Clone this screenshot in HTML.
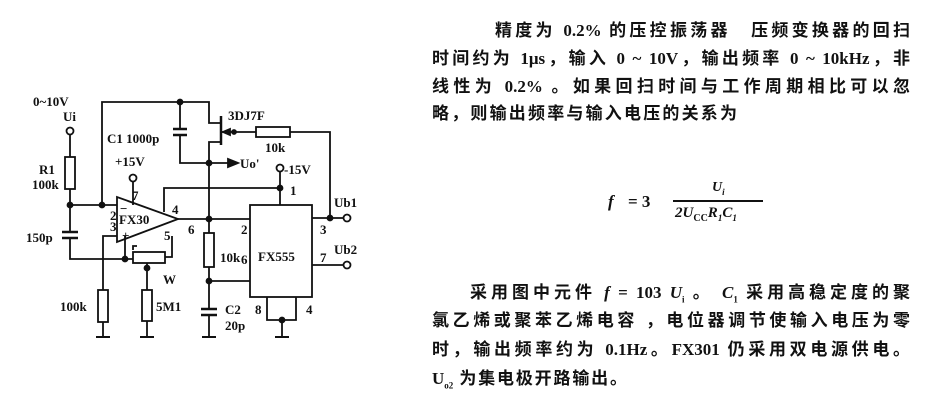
<!DOCTYPE html>
<html><head><meta charset="utf-8"><style>
body{margin:0;background:#fff;width:928px;height:407px;overflow:hidden;position:relative}
.t{position:absolute;font-family:"Liberation Serif","Noto Sans CJK SC",sans-serif;font-weight:bold;font-size:17px;color:#111;white-space:nowrap;text-align:justify;text-align-last:justify;line-height:20px}
svg{position:absolute;left:0;top:0}
svg text{font-family:"Liberation Serif",serif;font-size:13px;fill:#111;font-weight:bold}
</style></head><body>
<svg width="928" height="407" stroke="#111" stroke-width="1.8" fill="none">
<polyline points="102,205 102,102 209,102 209,123 220,123"/>
<circle cx="180" cy="102" r="2.5" fill="#111"/>
<line x1="180" y1="102" x2="180" y2="129"/><line x1="173" y1="129" x2="187" y2="129" stroke-width="2.5"/>
<line x1="173" y1="135" x2="187" y2="135" stroke-width="2.5"/><polyline points="180,135 180,163 209,163"/>
<line x1="221" y1="116" x2="221" y2="145" stroke-width="2.5"/>
<polyline points="221,142 209,142 209,219"/>
<line x1="221" y1="132" x2="256" y2="132"/><polygon points="223,132 230,129 230,135" fill="#111"/>
<circle cx="234" cy="132" r="2" fill="#111"/>
<rect x="256" y="127" width="34" height="10"/>
<polyline points="290,132 330,132 330,218"/>
<circle cx="209" cy="163" r="2.5" fill="#111"/>
<line x1="209" y1="163" x2="230" y2="163"/><polygon points="238,163 228,159 228,167" fill="#111"/>
<circle cx="280" cy="168" r="3.5" fill="#fff"/>
<polyline points="280,172 280,205"/>
<polyline points="164,212 164,188 280,188"/><circle cx="280" cy="188" r="2.5" fill="#111"/>
<rect x="250" y="205" width="62" height="92"/>
<polygon points="117,197 117,242 178,219" fill="#fff"/>
<line x1="133" y1="182" x2="133" y2="205"/><circle cx="133" cy="178" r="3.5" fill="#fff"/>
<line x1="178" y1="219" x2="250" y2="219"/><circle cx="209" cy="219" r="2.5" fill="#111"/>
<circle cx="70" cy="131" r="3.5" fill="#fff"/>
<line x1="70" y1="135" x2="70" y2="157"/><rect x="65" y="157" width="10" height="32"/>
<line x1="70" y1="189" x2="70" y2="232"/><line x1="70" y1="205" x2="117" y2="205"/>
<circle cx="70" cy="205" r="2.5" fill="#111"/><circle cx="102" cy="205" r="2.5" fill="#111"/>
<line x1="62" y1="232" x2="78" y2="232" stroke-width="2.5"/><line x1="62" y1="238" x2="78" y2="238" stroke-width="2.5"/>
<polyline points="70,238 70,259 133,259"/><circle cx="125" cy="259" r="2.5" fill="#111"/>
<line x1="125" y1="236" x2="125" y2="259"/>
<rect x="133" y="252" width="32" height="11"/>
<polyline points="165,257 172,257 172,236"/>
<polyline points="133,250 133,246 137,246"/>
<line x1="147" y1="263" x2="147" y2="290"/><circle cx="147" cy="268" r="2.5" fill="#111"/>
<rect x="142" y="290" width="10" height="31"/><line x1="147" y1="321" x2="147" y2="337"/><line x1="140" y1="337" x2="154" y2="337" stroke-width="2"/>
<polyline points="117,236 103,236 103,290"/>
<rect x="98" y="290" width="10" height="32"/><line x1="103" y1="322" x2="103" y2="337"/><line x1="96" y1="337" x2="110" y2="337" stroke-width="2"/>
<line x1="209" y1="219" x2="209" y2="309"/><rect x="204" y="233" width="10" height="34" fill="#fff"/>
<line x1="209" y1="281" x2="250" y2="281"/><circle cx="209" cy="281" r="2.5" fill="#111"/>
<line x1="201" y1="309" x2="217" y2="309" stroke-width="2.5"/><line x1="201" y1="315" x2="217" y2="315" stroke-width="2.5"/>
<line x1="209" y1="315" x2="209" y2="337"/><line x1="202" y1="337" x2="216" y2="337" stroke-width="2"/>
<polyline points="267,297 267,320 296,320 296,297"/><circle cx="282" cy="320" r="2.5" fill="#111"/>
<line x1="282" y1="320" x2="282" y2="337"/><line x1="275" y1="337" x2="289" y2="337" stroke-width="2"/>
<line x1="312" y1="218" x2="343" y2="218"/><circle cx="330" cy="218" r="2.5" fill="#111"/><circle cx="347" cy="218" r="3.5" fill="#fff"/>
<line x1="312" y1="265" x2="343" y2="265"/><circle cx="347" cy="265" r="3.5" fill="#fff"/>
<g stroke="none">
<text x="33" y="106">0~10V</text><text x="63" y="121">Ui</text>
<text x="39" y="174">R1</text><text x="32" y="189">100k</text>
<text x="107" y="143">C1 1000p</text><text x="228" y="120">3DJ7F</text><text x="265" y="152">10k</text>
<text x="240" y="168">Uo'</text><text x="115" y="166">+15V</text><text x="284" y="174">-15V</text>
<text x="132" y="200" font-size="11">7</text><text x="120" y="213" font-size="14">−</text>
<text x="110" y="220" font-size="12">2</text><text x="110" y="231" font-size="12">3</text>
<text x="119" y="224" font-size="14">FX30</text><text x="172" y="214" font-size="12">4</text>
<text x="164" y="240" font-size="12">5</text><text x="188" y="234" font-size="12">6</text>
<text x="122" y="240" font-size="11">+</text>
<text x="26" y="242">150p</text><text x="60" y="311">100k</text><text x="163" y="284">W</text><text x="156" y="311">5M1</text>
<text x="220" y="262">10k</text><text x="225" y="314">C2</text><text x="225" y="330">20p</text>
<text x="258" y="261" font-size="18">FX555</text>
<text x="290" y="195" font-size="12">1</text><text x="241" y="234" font-size="12">2</text><text x="241" y="264" font-size="12">6</text>
<text x="320" y="234" font-size="12">3</text><text x="320" y="262" font-size="12">7</text>
<text x="255" y="314" font-size="12">8</text><text x="306" y="314" font-size="12">4</text>
<text x="334" y="207">Ub1</text><text x="334" y="254">Ub2</text>
</g>
</svg>
<div class="t" style="left:495px;top:21px;width:415px">精度为 0.2% 的压控振荡器　压频变换器的回扫</div>
<div class="t" style="left:432px;top:49px;width:478px">时间约为 1μs，输入 0 ~ 10V，输出频率 0 ~ 10kHz，非</div>
<div class="t" style="left:432px;top:77px;width:478px">线性为 0.2% 。如果回扫时间与工作周期相比可以忽</div>
<div class="t" style="left:432px;top:104px;width:305px">略，则输出频率与输入电压的关系为</div>
<div class="t" style="left:608px;top:192px;font-style:italic">f</div>
<div class="t" style="left:628px;top:192px">= 3</div>
<div class="t" style="left:712px;top:178px;font-style:italic;font-size:14px">U<sub style="font-size:9px">i</sub></div>
<div style="position:absolute;left:673px;top:200px;width:90px;height:1.5px;background:#111"></div>
<div class="t" style="left:675px;top:203px;font-style:italic;font-size:15px">2U<sub style="font-size:10px;font-style:normal">CC</sub>R<sub style="font-size:9px">1</sub>C<sub style="font-size:9px">1</sub></div>
<div class="t" style="left:470px;top:283px;width:440px">采用图中元件 <i>f</i> = 103 <i>U</i><sub style="font-size:9px">i</sub> 。 <i>C</i><sub style="font-size:9px">1</sub> 采用高稳定度的聚</div>
<div class="t" style="left:432px;top:311px;width:478px">氯乙烯或聚苯乙烯电容 ，电位器调节使输入电压为零</div>
<div class="t" style="left:432px;top:340px;width:478px">时，输出频率约为 0.1Hz。FX301 仍采用双电源供电。</div>
<div class="t" style="left:432px;top:369px;width:195px">U<sub style="font-size:9px">o2</sub> 为集电极开路输出。</div>
</body></html>
